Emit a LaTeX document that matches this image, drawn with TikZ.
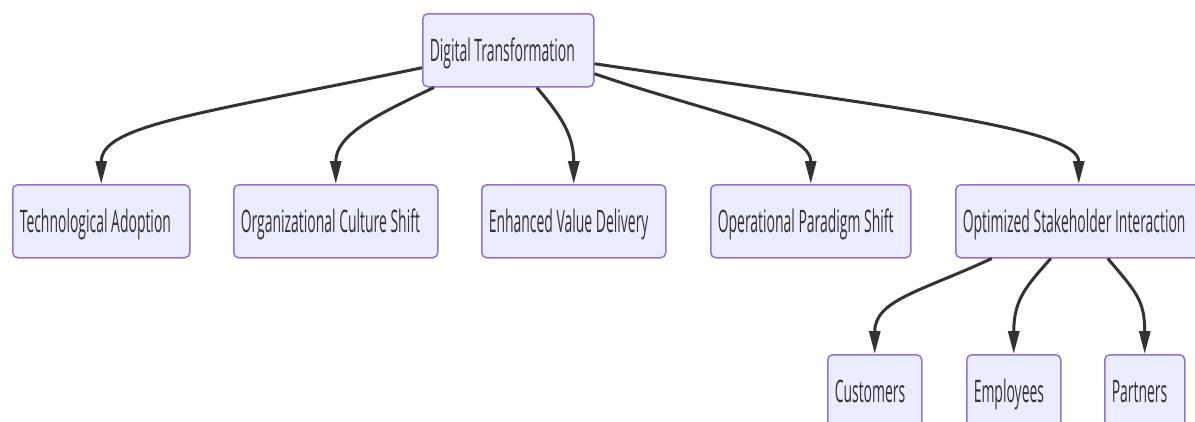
\documentclass[tikz,border=0pt]{standalone}
\usepackage{fontspec}
\newfontfamily\mmfont[FakeStretch=0.45]{Open Sans}
\usetikzlibrary{arrows.meta}
\definecolor{nodefill}{HTML}{ECECFF}
\definecolor{nodeline}{HTML}{9370DB}
\definecolor{edgecol}{HTML}{333333}
\definecolor{txtcol}{HTML}{333333}

% left-aligned label inside a box of the given width (pt)
\newcommand{\boxtext}[2]{\makebox[\dimexpr#1pt\relax][l]{\hspace{7pt}#2}}

\tikzset{
  box/.style={draw=nodeline, fill=nodefill, line width=1.5pt, rounded corners=5pt,
    minimum height=73pt, inner xsep=0pt, inner ysep=0pt,
    text height=22pt, text depth=0pt, anchor=north west,
    font=\mmfont\fontsize{31}{31}\selectfont, text=txtcol},
  edge/.style={draw=edgecol, line width=3pt, -{Triangle[length=23pt,width=11pt]}},
}

\begin{document}
\begin{tikzpicture}[x=1pt,y=-1pt]
\useasboundingbox (0,0) rectangle (1195,421);
\clip (0,0) rectangle (1195,421);

% root
\node[box, minimum width=171pt] (dt) at (422,13) {\boxtext{171}{Digital Transformation}};

% second level
\node[box, minimum width=177pt] (ta)  at (12,184)  {\boxtext{177}{Technological Adoption}};
\node[box, minimum width=204pt] (ocs) at (233,184) {\boxtext{204}{Organizational Culture Shift}};
\node[box, minimum width=184pt] (evd) at (481,184) {\boxtext{184}{Enhanced Value Delivery}};
\node[box, minimum width=200pt] (ops) at (710,184) {\boxtext{200}{Operational Paradigm Shift}};
\node[box, minimum width=246pt] (osi) at (955,184) {\boxtext{246}{Optimized Stakeholder Interaction}};

% stakeholders
\node[box, minimum width=94pt] (cus) at (827,354)  {\boxtext{94}{Customers}};
\node[box, minimum width=94pt] (emp) at (966,354)  {\boxtext{94}{Employees}};
\node[box, minimum width=80pt] (par) at (1104,354) {\boxtext{80}{Partners}};

% connectors
\draw[edge] ([yshift=-17.5pt]dt.west) .. controls +(-222,46) and +(0,-59) .. (ta.north);
\draw[edge] ([xshift=12pt]dt.south west) .. controls +(-59,28) and +(0,-49) .. (ocs.north);
\draw[edge] ([xshift=28.5pt]dt.south) .. controls +(24,28) and +(0,-49) .. (evd.north);
\draw[edge] ([yshift=-23.5pt]dt.east) .. controls +(107,37) and +(0,-54) .. (ops.north);
\draw[edge] ([yshift=-13.5pt]dt.east) .. controls +(307,45) and +(0,-56) .. (osi.north);

\draw[edge] ([xshift=-87pt]osi.south) .. controls +(-71,33) and +(0,-54) .. (cus.north);
\draw[edge] ([xshift=-28pt]osi.south) .. controls +(-25,28) and +(0,-54) .. (emp.north);
\draw[edge] ([xshift=29pt]osi.south) .. controls +(28,33) and +(0,-54) .. (par.north);
\end{tikzpicture}
\end{document}
